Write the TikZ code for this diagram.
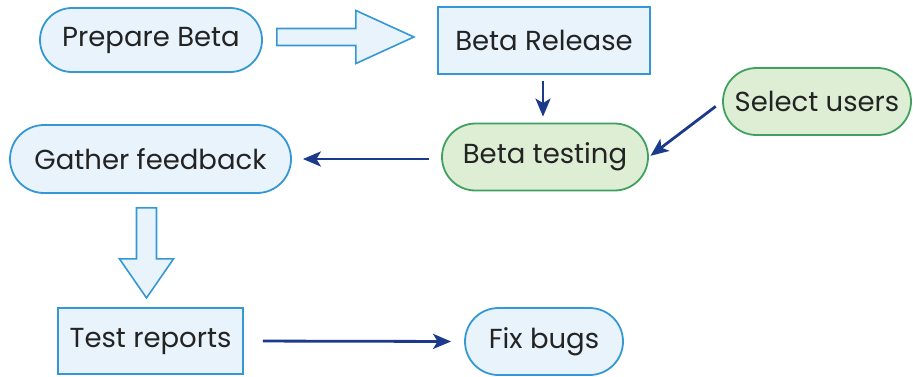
\documentclass[tikz,border=0pt]{standalone}
\usepackage{fontspec}
\setmainfont{Poppins}
\usetikzlibrary{shapes.misc,arrows.meta,calc}
\definecolor{blueline}{RGB}{52,152,212}
\definecolor{bluefill}{RGB}{232,243,251}
\definecolor{greenline}{RGB}{64,160,96}
\definecolor{greenfill}{RGB}{221,238,213}
\definecolor{flowarrow}{RGB}{28,58,140}
\definecolor{labeltext}{RGB}{35,35,35}
\tikzset{
  label font/.style={font=\fontsize{27.5}{30}\selectfont, text=labeltext},
  bluepill/.style={rounded rectangle, draw=blueline, fill=bluefill, line width=1.8pt, inner sep=0pt, label font},
  greenpill/.style={rounded rectangle, draw=greenline, fill=greenfill, line width=1.8pt, inner sep=0pt, label font},
  bluebox/.style={rectangle, draw=blueline, fill=bluefill, line width=1.8pt, inner sep=0pt, label font},
  conn/.style={draw=flowarrow, line width=2.8pt, -{Stealth[length=18pt,width=15pt,inset=4.5pt]}},
  hollow/.style={draw=blueline, fill=bluefill, line width=1.6pt, line join=miter}
}
\begin{document}
\begin{tikzpicture}[x=1pt,y=-1pt]
  \useasboundingbox (0,0) rectangle (913,376);

  % stages
  \node[bluepill, minimum width=222pt, minimum height=64pt] (prep) at (151,40) {Prepare Beta};
  \node[bluebox, minimum width=212pt, minimum height=67pt] (rel) at (544,40.5) {Beta Release};
  \node[greenpill, minimum width=206pt, minimum height=67pt] (test) at (545,157) {Beta testing};
  \node[greenpill, minimum width=188pt, minimum height=67pt] (sel) at (817,101.5) {Select users};
  \node[bluepill, minimum width=281pt, minimum height=68pt] (gath) at (150.5,159) {Gather feedback};
  \node[bluebox, minimum width=185pt, minimum height=66pt] (rep) at (150.5,341) {Test reports};
  \node[bluepill, minimum width=158pt, minimum height=67pt] (fix) at (544,341.5) {Fix bugs};

  % wide hollow arrows
  \coordinate (h1) at ($(prep.east)+(14,-3)$);
  \draw[hollow] (h1) ++(0,-8.5) -- ++(79,0) -- ++(0,-18) -- ++(58,26.5)
    -- ++(-58,26.5) -- ++(0,-18) -- ++(-79,0) -- cycle;
  \coordinate (h2) at ($(gath.south)+(-4,14)$);
  \draw[hollow] (h2) ++(-10,0) -- ++(20,0) -- ++(0,51) -- ++(17,0) -- ++(-27,39)
    -- ++(-27,-39) -- ++(17,0) -- cycle;

  % thin connectors
  \draw[conn, shorten <=6pt, shorten >=6pt] ($(rel.south)+(-1,0)$) -- ($(test.north)+(-2,0)$);
  \draw[conn, shorten <=8pt, shorten >=2pt] (sel.west) -- (test.east);
  \draw[conn, shorten <=12pt, shorten >=11pt] (test.west |- gath.east) -- (gath.east);
  \draw[conn, shorten <=19pt, shorten >=13pt] (rep.east) -- (fix.west);
\end{tikzpicture}
\end{document}
